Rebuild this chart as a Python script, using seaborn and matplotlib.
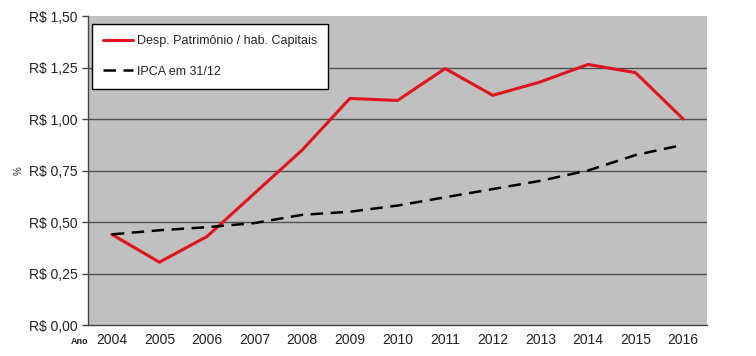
import pandas as pd
import matplotlib.pyplot as plt
import seaborn as sns
import numpy as np

anos = [2004, 2005, 2006, 2007, 2008, 2009, 2010, 2011, 2012, 2013, 2014, 2015, 2016]
desp_patrimonio = [0.44, 0.305, 0.43, 0.64, 0.85, 1.10, 1.09, 1.245, 1.115, 1.18, 1.265, 1.225, 1.00]
ipca = [0.44, 0.46, 0.475, 0.495, 0.535, 0.55, 0.58, 0.62, 0.66, 0.70, 0.75, 0.825, 0.875]
y_ticks = [0.0, 0.25, 0.5, 0.75, 1.0, 1.25, 1.5]

df = pd.DataFrame({'Ano': anos, 'desp': desp_patrimonio, 'ipca': ipca})

sns.set_style("white")
plt.rcParams['font.family'] = ['Liberation Sans', 'DejaVu Sans']

fig = plt.figure(figsize=(7.56, 3.56), dpi=100)
ax = fig.add_axes([0.1164, 0.087, 0.8188, 0.868])
ax.set_facecolor('#c0c0c0')

sns.lineplot(x='Ano', y='desp', data=df, ax=ax, color='#e0141c', linewidth=2.2,
             label='Desp. Patrimônio / hab. Capitais')
sns.lineplot(x='Ano', y='ipca', data=df, ax=ax, color='black', linewidth=1.8,
             linestyle=(0, (5, 3)), label='IPCA em 31/12')

ax.set_xlim(anos[0] - 0.5, anos[-1] + 0.5)
ax.set_ylim(0, 1.5)
ax.set_yticks(y_ticks)
ax.set_yticklabels(['R$ ' + f'{v:.2f}'.replace('.', ',') for v in y_ticks], fontsize=10, color='#222222')
ax.set_xticks(anos)
ax.set_xticklabels([str(a) for a in anos], fontsize=10, color='#222222')
ax.set_xticks(np.arange(anos[0] - 0.5, anos[-1] + 1, 1), minor=True)
ax.tick_params(axis='x', which='major', length=0, pad=6)
ax.tick_params(axis='x', which='minor', length=4, width=1, color='#444444', direction='out')
ax.tick_params(axis='y', length=4, width=1, color='#444444', direction='out', left=True)

for v in y_ticks[1:-1]:
    ax.axhline(v, color='#505050', linewidth=1.0, zorder=1)

for s in ['top', 'right']:
    ax.spines[s].set_visible(False)
for s in ['left', 'bottom']:
    ax.spines[s].set_color('#444444')
    ax.spines[s].set_linewidth(1.0)

ax.set_xlabel('')
ax.set_ylabel('%', fontsize=7, color='#333333', labelpad=4)
fig.text(0.093, 0.035, 'Ano', fontsize=6.5, fontweight='bold', color='#222222')

leg = ax.legend(loc='upper left', fontsize=9, frameon=True, fancybox=False,
                edgecolor='black', framealpha=1, borderpad=0.9, labelspacing=1.5,
                handlelength=2.4, handletextpad=0.3, borderaxespad=0,
                bbox_to_anchor=(0.006, 0.975))
leg.get_frame().set_linewidth(1.0)

fig.savefig('out.png', dpi=100)
